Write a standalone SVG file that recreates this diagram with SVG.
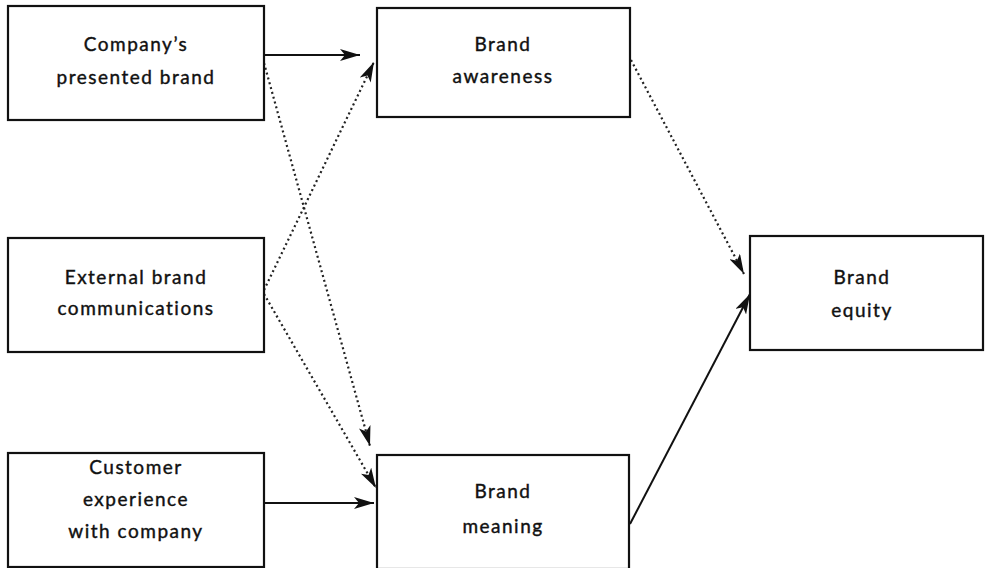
<svg xmlns="http://www.w3.org/2000/svg" width="988" height="568" viewBox="0 0 988 568">
<style>
.box{fill:#fff;stroke:#111;stroke-width:2.2}
.t{font-family:"Lato","Liberation Sans",sans-serif;font-size:19px;fill:#111;stroke:#111;stroke-width:0.4;text-anchor:middle;letter-spacing:1.5px}
.s{stroke:#111;stroke-width:2;fill:none}
.d{stroke:#222;stroke-width:2.2;fill:none;stroke-dasharray:2 3}
</style>
<defs>
<marker id="ah" viewBox="0 0 20 12" refX="20" refY="6" markerWidth="20" markerHeight="12" markerUnits="userSpaceOnUse" orient="auto">
<path d="M0,0 L20,6 L0,12 L5,6 z" fill="#111"/>
</marker>
</defs>
<rect width="988" height="568" fill="#fff"/>
<g id="connectors">
<line class="s" x1="264" y1="55" x2="360" y2="55" marker-end="url(#ah)"/>
<line class="d" x1="264" y1="63" x2="370" y2="446" marker-end="url(#ah)"/>
<line class="d" x1="264" y1="290" x2="374" y2="62" marker-end="url(#ah)"/>
<line class="d" x1="264" y1="294" x2="376" y2="488" marker-end="url(#ah)"/>
<line class="s" x1="264" y1="503" x2="374" y2="503" marker-end="url(#ah)"/>
<line class="d" x1="631" y1="60" x2="744" y2="274" marker-end="url(#ah)"/>
<line class="s" x1="630" y1="524" x2="750" y2="294" marker-end="url(#ah)"/>
</g>
<g id="company">
<rect class="box" x="8" y="6" width="256" height="114"/>
<text class="t" x="136" y="51">Company’s</text>
<text class="t" x="136" y="84">presented brand</text>
</g>
<g id="awareness">
<rect class="box" x="377" y="8" width="253" height="109"/>
<text class="t" x="503" y="51">Brand</text>
<text class="t" x="503" y="83">awareness</text>
</g>
<g id="external">
<rect class="box" x="8" y="238" width="256" height="114"/>
<text class="t" x="136" y="284">External brand</text>
<text class="t" x="136" y="315">communications</text>
</g>
<g id="customer">
<rect class="box" x="8" y="453" width="256" height="114"/>
<text class="t" x="136" y="474">Customer</text>
<text class="t" x="136" y="506">experience</text>
<text class="t" x="136" y="538">with company</text>
</g>
<g id="meaning">
<rect class="box" x="377" y="455" width="252" height="114"/>
<text class="t" x="503" y="498">Brand</text>
<text class="t" x="503" y="533">meaning</text>
</g>
<g id="equity">
<rect class="box" x="750" y="236" width="233" height="114"/>
<text class="t" x="862" y="284">Brand</text>
<text class="t" x="862" y="317">equity</text>
</g>
</svg>
